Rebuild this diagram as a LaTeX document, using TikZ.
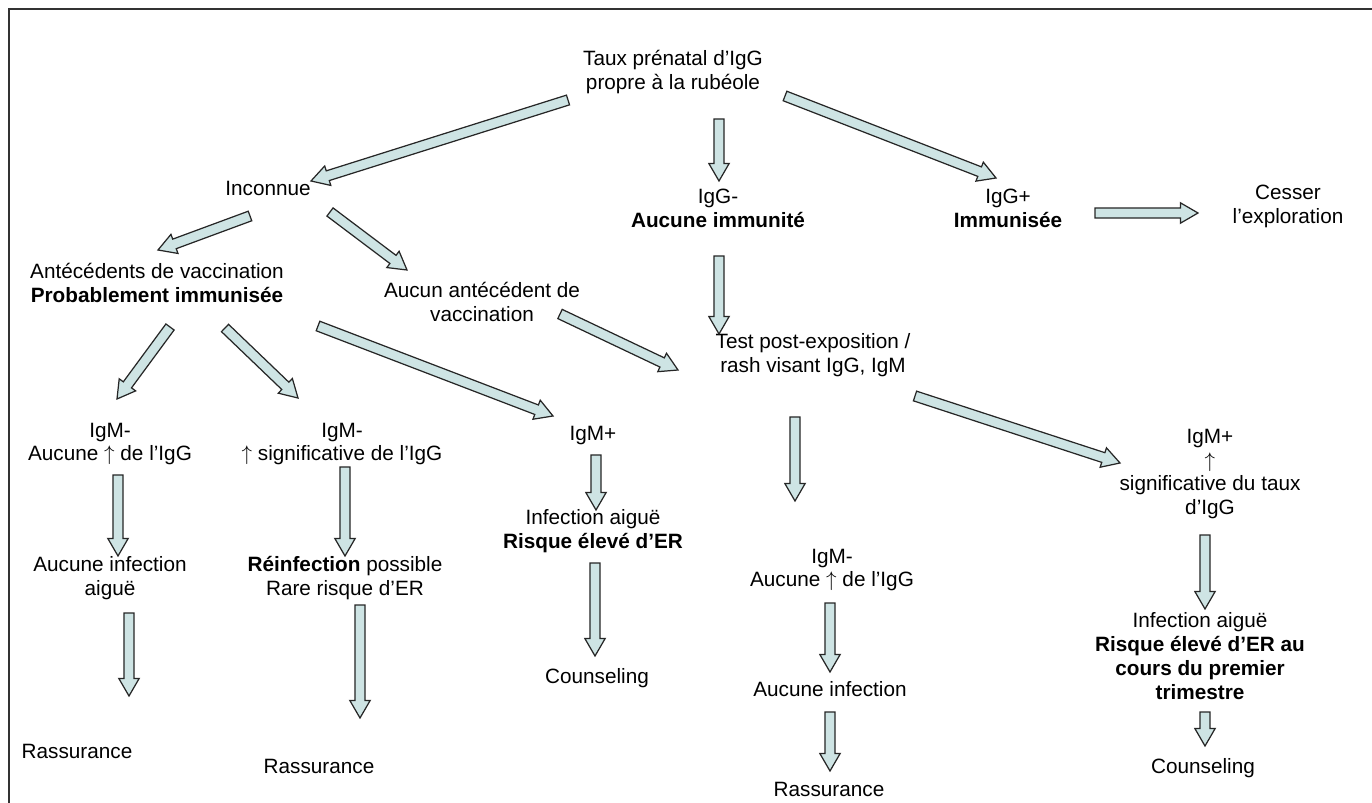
\documentclass[tikz,border=0pt]{standalone}
\usepackage{fontspec}
\setmainfont{Liberation Sans}
\usetikzlibrary{calc}

\definecolor{arrowfill}{RGB}{206,228,228}
\definecolor{framegray}{RGB}{50,50,50}

% block arrow sizes
\def\shw{2.9pt}
\def\hdw{5.8pt}
\def\hdl{10pt}
\newcommand{\blockarrow}[2]{%
  \filldraw[blockarr] ($(#1)!\shw!90:(#2)$) -- ($(#2)!\hdl!(#1)!\shw!-90:(#1)$)
    -- ($(#2)!\hdl!(#1)!\hdw!-90:(#1)$) -- (#2)
    -- ($(#2)!\hdl!(#1)!\hdw!90:(#1)$) -- ($(#2)!\hdl!(#1)!\shw!90:(#1)$)
    -- ($(#1)!\shw!-90:(#2)$) -- cycle;}
\newcommand{\up}{$\uparrow$}

\tikzset{
  blockarr/.style={fill=arrowfill, draw=black!85, line width=0.7pt, line join=miter},
  txt/.style={align=center, inner sep=0pt, font=\fontsize{11.8}{13.6}\selectfont},
}

\begin{document}
\begin{tikzpicture}[x=0.02cm, y=-0.02cm]
    \useasboundingbox (0,0) rectangle (1372,803);

    % open frame (top and left only)
    \draw[framegray, line width=1.1pt] (9,803) -- (9,9) -- (1372,9);

    % the texts
    \node[txt] (top) at (673,72) {Taux prénatal d’IgG\\propre à la rubéole};
    \node[txt] (inconnue) at (268,188) {Inconnue};
    \node[txt] (igGneg) at (718,208) {IgG-\\\textbf{Aucune immunité}};
    \node[txt] (igGpos) at (1008,208) {IgG+\\\textbf{Immunisée}};
    \node[txt] (cesser) at (1288,206) {Cesser\\l’exploration};
    \node[txt] (antec) at (157,283) {Antécédents de vaccination\\\textbf{Probablement immunisée}};
    \node[txt] (aucunant) at (482,302) {Aucun antécédent de\\vaccination};
    \node[txt] (test) at (813,355) {Test post-exposition /\\rash visant IgG, IgM};
    \node[txt] (igMa) at (110,444) {IgM-\\Aucune \up{} de l’IgG};
    \node[txt] (igMb) at (342,444) {IgM-\\\up{} significative de l’IgG};
    \node[txt] (igMc) at (593,436) {IgM+};
    \node[txt] (igMe) at (1210,474) {IgM+\\\up\\significative du taux\\d’IgG};
    \node[txt] (noinfa) at (110,578) {Aucune infection\\aiguë};
    \node[txt] (reinf) at (345,578) {\textbf{Réinfection} possible\\Rare risque d’ER};
    \node[txt] (infa) at (593,531) {Infection aiguë\\\textbf{Risque élevé d’ER}};
    \node[txt] (igMd) at (832,570) {IgM-\\Aucune \up{} de l’IgG};
    \node[txt] (infb) at (1200,656) {Infection aiguë\\\textbf{Risque élevé d’ER au}\\\textbf{cours du premier}\\\textbf{trimestre}};
    \node[txt] (noinfb) at (830,689) {Aucune infection};
    \node[txt] (counsa) at (597,678) {Counseling};
    \node[txt] (rassa) at (77,751) {Rassurance};
    \node[txt] (rassb) at (319,766) {Rassurance};
    \node[txt] (rassc) at (829,789) {Rassurance};
    \node[txt] (counsb) at (1203,768) {Counseling};

    % arrow ends
    \foreach \n/\x/\y in {
        tInc/568/100, hInc/311/181,
        tGneg/719/119, hGneg/719/181,
        tGpos/785/96, hGpos/996/178,
        tCes/1095/213, hCes/1198/213,
        tAnt/250/216, hAnt/158/250,
        tAuc/330/212, hAuc/407/270,
        tTst/719/256, hTst/719/334,
        tAt2/560/314, hAt2/678/370,
        tMa/170/327, hMa/117/399,
        tMb/225/328, hMb/298/398,
        tMc/318/326, hMc/553/416,
        tIa/596/455, hIa/596/510,
        tMd/795/417, hMd/795/501,
        tMe/915/396, hMe/1120/463,
        tNa/118/475, hNa/118/556,
        tRa/129/613, hRa/129/696,
        tRi/345/467, hRi/345/556,
        tRb/360/605, hRb/360/718,
        tCa/595/563, hCa/595/656,
        tNb/830/603, hNb/830/672,
        tRc/830/712, hRc/830/771,
        tIb/1205/535, hIb/1205/609,
        tCb/1205/712, hCb/1205/746}
    \coordinate (\n) at (\x,\y);

    % the block arrows
    \foreach \a in {Inc,Gneg,Gpos,Ces,Ant,Auc,Tst,At2,Ma,Mb,Mc,Ia,Md,Me,Na,Ra,Ri,Rb,Ca,Nb,Rc,Ib,Cb}
    \blockarrow{t\a}{h\a};
\end{tikzpicture}
\end{document}
